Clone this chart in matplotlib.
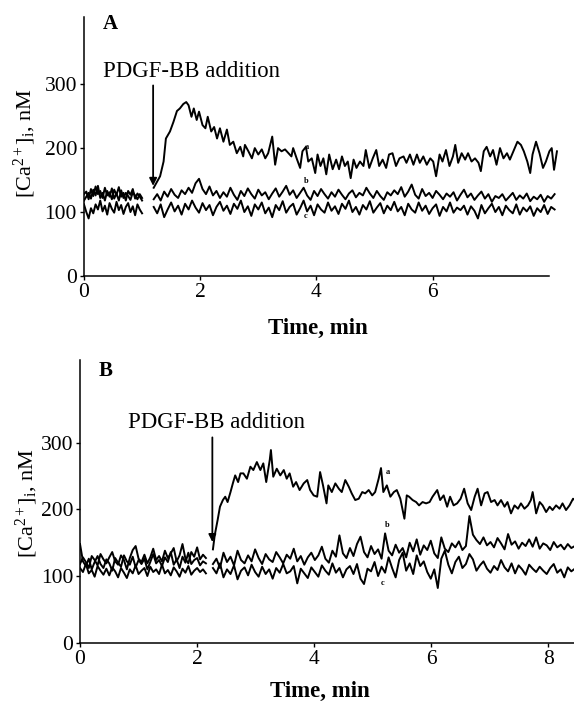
import numpy as np
import matplotlib
matplotlib.use('Agg')
import matplotlib.pyplot as plt

plt.rcParams['font.family'] = ['Liberation Serif', 'DejaVu Serif']
plt.rcParams['mathtext.fontset'] = 'custom'
plt.rcParams['mathtext.rm'] = 'Liberation Serif'
plt.rcParams['mathtext.it'] = 'Liberation Serif:italic'

# ---- Panel A ----
# pre-addition, traces a/b/c sampled every 0.04 min from 0 to 1.0
A_pre_t = np.arange(0.0, 1.01, 0.04)
A_pre_a = [128, 132, 120, 136, 125, 140, 128, 133, 122, 138, 126, 131, 120,
           135, 127, 139, 124, 130, 118, 133, 127, 136, 121, 129, 124, 118]
A_pre_b = [118, 124, 130, 121, 135, 126, 141, 122, 130, 118, 133, 124, 137,
           121, 129, 118, 134, 122, 130, 125, 119, 131, 126, 120, 128, 122]
A_pre_c = [112, 100, 90, 106, 98, 112, 104, 118, 101, 110, 96, 114, 105,
           99, 116, 103, 111, 97, 108, 114, 100, 109, 95, 112, 104, 98]

# trace a after PDGF-BB (irregular readings)
A_a_t = [1.20, 1.26, 1.31, 1.37, 1.41, 1.48, 1.54, 1.60, 1.65, 1.71, 1.76, 1.80,
         1.85, 1.89, 1.94, 1.98, 2.04, 2.09, 2.13, 2.19, 2.24, 2.29, 2.34, 2.40,
         2.46, 2.51, 2.57, 2.63, 2.69, 2.74, 2.77, 2.83, 2.89, 2.94, 3.00, 3.06,
         3.12, 3.17, 3.24, 3.29, 3.34, 3.40, 3.46, 3.52, 3.57, 3.60, 3.66, 3.72,
         3.76, 3.82, 3.86, 3.92, 3.98, 4.02, 4.07, 4.12, 4.17, 4.22, 4.28, 4.34,
         4.39, 4.44, 4.49, 4.54, 4.59, 4.64, 4.69, 4.75, 4.81, 4.85, 4.91, 4.97,
         5.03, 5.08, 5.14, 5.20, 5.25, 5.31, 5.37, 5.43, 5.50, 5.55, 5.61, 5.67,
         5.73, 5.78, 5.84, 5.90, 5.96, 6.01, 6.06, 6.12, 6.17, 6.23, 6.29, 6.35,
         6.39, 6.44, 6.50, 6.56, 6.61, 6.67, 6.73, 6.79, 6.83, 6.88, 6.93, 6.99,
         7.04, 7.10, 7.16, 7.22, 7.28, 7.33, 7.39, 7.46, 7.52, 7.57, 7.63, 7.68,
         7.72, 7.78, 7.84, 7.90, 7.95, 8.01, 8.05, 8.09, 8.14]
A_a_v = [138, 148, 156, 179, 215, 226, 241, 258, 262, 269, 272, 267,
         249, 262, 244, 257, 236, 231, 249, 226, 233, 215, 231, 210,
         229, 205, 210, 192, 202, 187, 205, 195, 184, 200, 190, 198,
         184, 192, 218, 174, 200, 195, 198, 192, 187, 200, 184, 169,
         195, 202, 179, 184, 161, 190, 172, 184, 159, 190, 167, 182,
         167, 187, 172, 179, 153, 182, 169, 179, 172, 197, 169, 184,
         197, 172, 182, 169, 190, 192, 172, 184, 187, 177, 190, 174,
         190, 177, 187, 174, 184, 179, 156, 190, 179, 197, 172, 187,
         205, 177, 192, 182, 192, 179, 184, 177, 164, 195, 202, 187,
         197, 174, 200, 184, 192, 182, 195, 210, 205, 195, 179, 161,
         190, 210, 192, 169, 179, 195, 200, 166, 195]

# traces b and c after addition, sampled every 0.06 min from 1.20
A_post_t = np.arange(1.20, 8.11, 0.06)
A_b = [120, 128, 118, 132, 124, 136, 127, 122, 134, 128,
       138, 130, 145, 152, 136, 128, 140, 126, 133, 122,
       131, 124, 138, 127, 119, 133, 125, 137, 128, 121,
       135, 126, 131, 120, 129, 137, 124, 132, 141, 127,
       134, 122, 130, 138, 126, 119, 133, 125, 136, 128,
       121, 131, 124, 135, 127, 120, 129, 134, 123, 130,
       126, 138, 129, 122, 133, 125, 119, 131, 126, 134,
       128, 139, 124, 132, 143, 127, 121, 136, 125, 130,
       122, 133, 127, 120, 129, 124, 131, 118, 127, 135,
       123, 129, 119, 126, 132, 121, 128, 116, 125, 122,
       128, 118, 124, 130, 119, 126, 121, 129, 117, 124,
       120, 127, 116, 125, 121, 128]
A_c = [108, 98, 112, 92, 104, 115, 101, 110, 96, 113,
       104, 118, 107, 99, 114, 103, 111, 95, 108, 116,
       102, 110, 97, 113, 105, 118, 100, 109, 94, 112,
       104, 115, 98, 107, 92, 111, 103, 117, 99, 108,
       113, 96, 106, 118, 101, 110, 95, 112, 104, 99,
       115, 102, 109, 97, 113, 105, 118, 100, 108, 96,
       111, 104, 117, 99, 107, 114, 98, 110, 103, 116,
       101, 108, 95, 113, 104, 99, 115, 102, 110, 97,
       106, 112, 94, 108, 101, 115, 99, 107, 103, 110,
       96, 109, 102, 90, 111, 98, 106, 113, 100, 108,
       95, 110, 103, 98, 112, 96, 107, 101, 109, 94,
       106, 100, 111, 97, 108, 104]

# ---- Panel B ----
B_pre_t = np.arange(0.0, 2.16, 0.05)
B_pre_a = [148, 122, 115, 126, 110, 121, 130, 118, 112, 125,
           119, 108, 127, 120, 114, 131, 122, 117, 129, 113,
           124, 118, 126, 110, 121, 133, 119, 124, 115, 128,
           121, 136, 117, 125, 112, 129, 120, 135, 118, 124,
           127, 116, 122, 119]
B_pre_b = [118, 128, 121, 112, 130, 124, 116, 133, 125, 119,
           128, 136, 122, 117, 131, 124, 110, 127, 139, 145,
           126, 121, 132, 119, 128, 141, 124, 130, 122, 138,
           127, 134, 142, 122, 131, 148, 126, 119, 136, 129,
           143, 125, 132, 127]
B_pre_c = [112, 106, 118, 104, 109, 99, 115, 108, 102, 111,
           101, 113, 107, 98, 112, 105, 97, 110, 104, 116,
           103, 108, 112, 100, 114, 106, 110, 103, 117, 104,
           109, 101, 113, 107, 99, 111, 105, 115, 102, 108,
           112, 106, 110, 104]

B_a_t = [2.27, 2.30, 2.35, 2.39, 2.44, 2.48, 2.52, 2.57, 2.61, 2.65, 2.70, 2.74,
         2.79, 2.85, 2.91, 2.96, 3.02, 3.08, 3.13, 3.18, 3.24, 3.26, 3.30, 3.36,
         3.42, 3.48, 3.53, 3.58, 3.64, 3.69, 3.75, 3.82, 3.88, 3.93, 3.99, 4.05,
         4.10, 4.15, 4.21, 4.24, 4.30, 4.36, 4.42, 4.47, 4.53, 4.59, 4.64, 4.70,
         4.76, 4.82, 4.87, 4.93, 4.99, 5.04, 5.10, 5.14, 5.18, 5.24, 5.30, 5.36,
         5.41, 5.47, 5.54, 5.58, 5.62, 5.68, 5.74, 5.79, 5.85, 5.91, 5.97, 6.02,
         6.10, 6.15, 6.21, 6.27, 6.32, 6.38, 6.44, 6.50, 6.56, 6.62, 6.68, 6.74,
         6.79, 6.85, 6.91, 6.96, 7.02, 7.08, 7.13, 7.19, 7.25, 7.30, 7.36, 7.42,
         7.48, 7.53, 7.59, 7.65, 7.70, 7.73, 7.79, 7.85, 7.90, 7.96, 8.02, 8.07,
         8.13, 8.19, 8.24, 8.30, 8.36, 8.42, 8.45]
B_a_v = [140, 161, 184, 204, 214, 219, 211, 226, 239, 251, 241, 254,
         254, 246, 264, 259, 271, 259, 269, 241, 274, 289, 249, 261,
         251, 259, 246, 254, 234, 241, 229, 239, 244, 229, 221, 219,
         256, 236, 209, 236, 226, 239, 231, 226, 244, 234, 224, 214,
         216, 226, 224, 229, 221, 226, 246, 262, 226, 236, 219, 226,
         229, 216, 186, 221, 219, 214, 211, 206, 211, 209, 211, 219,
         229, 214, 221, 204, 219, 206, 209, 216, 231, 209, 199, 219,
         231, 206, 224, 226, 211, 214, 206, 214, 204, 211, 194, 206,
         201, 209, 201, 206, 214, 226, 194, 211, 206, 196, 204, 199,
         206, 201, 209, 199, 206, 216, 214]

B_post_t = np.arange(2.27, 8.46, 0.06)
B_b = [118, 126, 112, 135, 121, 129, 116, 138, 124, 119,
       131, 122, 140, 127, 118, 133, 125, 121, 136, 128,
       119, 132, 126, 141, 122, 130, 117, 128, 135, 124,
       131, 144, 126, 120, 138, 129, 161, 134, 127, 142,
       130, 148, 159, 136, 128, 145, 133, 140, 126, 164,
       138, 131, 147, 135, 142, 128, 150, 137, 155, 132,
       146, 139, 153, 134, 127, 158, 141, 136, 149, 143,
       152, 139, 145, 190, 162, 154, 148, 158, 146, 151,
       143, 157, 149, 140, 163, 147, 152, 141, 150, 145,
       155, 144, 158, 141, 149, 146, 139, 151, 143, 147,
       140, 148, 142, 145]
B_c = [112, 104, 119, 98, 110, 103, 116, 95, 108, 113,
       101, 117, 106, 99, 114, 103, 110, 96, 112, 105,
       118, 104, 107, 115, 89, 111, 104, 97, 113, 106,
       99, 116, 108, 102, 119, 105, 112, 98, 110, 115,
       103, 118, 96, 88, 111, 107, 121, 100, 114, 105,
       128, 112, 98, 124, 135, 108, 119, 103, 131, 115,
       122, 106, 96, 110, 82, 126, 138, 117, 104, 121,
       129, 112, 118, 133, 125, 108, 116, 122, 111, 105,
       115, 109, 124, 113, 107, 119, 104, 116, 110, 102,
       117, 111, 106, 114, 108, 103, 112, 118, 105, 110,
       98, 113, 107, 111]

y_ticks = [0, 100, 200, 300]
ylabel = '[Ca$^{2+}$]$_{\\mathrm{i}}$, nM'


def style_axes(ax):
    for s in ['top', 'right']:
        ax.spines[s].set_visible(False)
    for s in ['left', 'bottom']:
        ax.spines[s].set_linewidth(1.1)
    ax.tick_params(direction='out', length=3, width=1, labelsize=15.5, pad=2)
    ax.set_yticks(y_ticks)
    ax.set_ylabel(ylabel, fontsize=16)
    ax.set_xlabel('Time, min', fontsize=16.5, fontweight='bold')
    ax.xaxis.label.set_va('center')
    ax.yaxis.label.set_va('center')


fig = plt.figure(figsize=(5.74, 7.03), dpi=100)
lw = 1.4

# Panel A
axA = fig.add_axes([0.1463, 0.6074, 0.825, 0.3684])
axA.plot(A_pre_t, A_pre_a, color='k', lw=lw)
axA.plot(A_pre_t, A_pre_b, color='k', lw=lw)
axA.plot(A_pre_t, A_pre_c, color='k', lw=lw)
axA.plot(A_a_t, A_a_v, color='k', lw=lw)
axA.plot(A_post_t, A_b, color='k', lw=lw)
axA.plot(A_post_t, A_c, color='k', lw=lw)
axA.set_xlim(0, 8.15)
axA.set_ylim(0, 405)
style_axes(axA)
axA.spines['bottom'].set_bounds(0, 8.0)
axA.set_xticks([0, 2, 4, 6])
axA.xaxis.set_label_coords(0.494, -0.201)
axA.yaxis.set_label_coords(-0.125, 0.513)
axA.text(0.055, 0.973, 'A', transform=axA.transAxes, fontsize=15,
         fontweight='bold', ha='center', va='center')
axA.text(0.33, 311, 'PDGF-BB addition', fontsize=16.4, ha='left', va='baseline')
axA.annotate('', xy=(1.19, 141), xytext=(1.19, 298),
             arrowprops=dict(arrowstyle='-|>', color='k', lw=1.3,
                             mutation_scale=11, shrinkA=0, shrinkB=0))
axA.text(3.84, 201, 'a', fontsize=6, fontweight='bold', ha='center', va='center')
axA.text(3.82, 148, 'b', fontsize=6, fontweight='bold', ha='center', va='center')
axA.text(3.82, 94, 'c', fontsize=6, fontweight='bold', ha='center', va='center')

# Panel B
axB = fig.add_axes([0.1394, 0.0858, 0.861, 0.402])
axB.plot(B_pre_t, B_pre_a, color='k', lw=lw)
axB.plot(B_pre_t, B_pre_b, color='k', lw=lw)
axB.plot(B_pre_t, B_pre_c, color='k', lw=lw)
axB.plot(B_a_t, B_a_v, color='k', lw=lw)
axB.plot(B_post_t, B_b, color='k', lw=lw)
axB.plot(B_post_t, B_c, color='k', lw=lw)
axB.set_xlim(0, 8.44)
axB.set_ylim(0, 424)
style_axes(axB)
axB.set_xticks([0, 2, 4, 6, 8])
axB.xaxis.set_label_coords(0.486, -0.171)
axB.yaxis.set_label_coords(-0.107, 0.494)
axB.text(0.051, 0.961, 'B', transform=axB.transAxes, fontsize=15,
         fontweight='bold', ha='center', va='center')
axB.text(0.82, 322, 'PDGF-BB addition', fontsize=16.4, ha='left', va='baseline')
axB.annotate('', xy=(2.26, 151), xytext=(2.26, 308),
             arrowprops=dict(arrowstyle='-|>', color='k', lw=1.3,
                             mutation_scale=11, shrinkA=0, shrinkB=0))
axB.text(5.26, 256, 'a', fontsize=6, fontweight='bold', ha='center', va='center')
axB.text(5.25, 176, 'b', fontsize=6, fontweight='bold', ha='center', va='center')
axB.text(5.16, 89, 'c', fontsize=6, fontweight='bold', ha='center', va='center')

fig.savefig('out.png', dpi=100)
